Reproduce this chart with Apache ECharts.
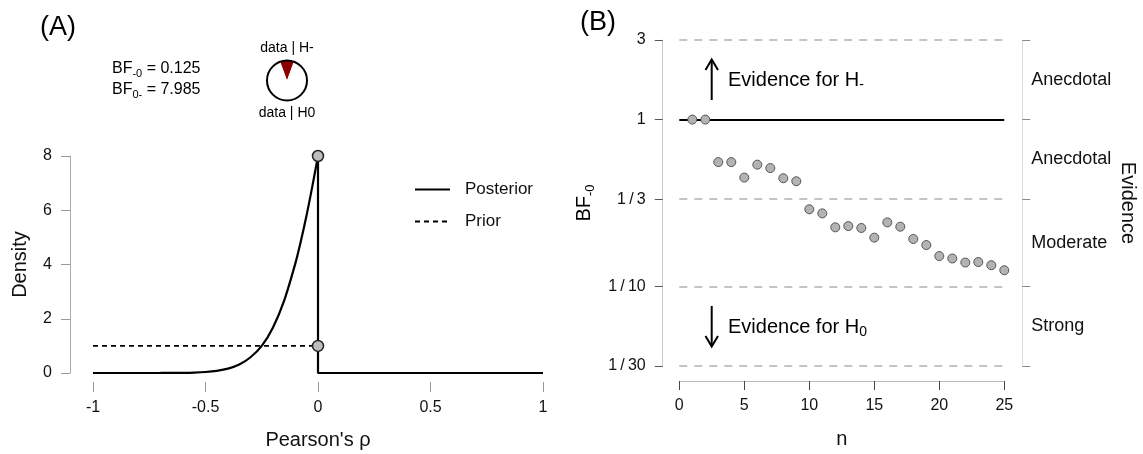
<!DOCTYPE html>
<html>
<head>
<meta charset="utf-8">
<script src="https://cdn.jsdelivr.net/npm/echarts@6/dist/echarts.min.js"></script>
<style>
  html, body { margin: 0; padding: 0; background: #fff; }
  #chart { width: 1143px; height: 454px; }
</style>
</head>
<body>
<div id="chart"></div>
<script>
// ---- panel A : prior / posterior of Pearson's rho ----
const rhoGrid = [-1, -0.9, -0.8, -0.7, -0.6, -0.55, -0.5, -0.45, -0.4, -0.35, -0.3, -0.25, -0.2, -0.15, -0.1, -0.075, -0.05, -0.025, 0];
const posteriorDensity = [0, 0, 0, 0.001, 0.007, 0.016, 0.037, 0.08, 0.16, 0.31, 0.58, 1.0, 1.68, 2.68, 4.06, 4.9, 5.84, 6.89, 8.0];
const posteriorTail = [[0, 8], [0, 0], [1, 0]];
const priorLine = [[-1, 1], [0, 1]];
const densityPoints = [[0, 8], [0, 1]];
const pieValues = [0.125, 1];          // data | H-  vs  data | H0
const pieLabels = ['data | H-', 'data | H0'];

// ---- panel B : sequential Bayes factor ----
const nValues = [1, 2, 3, 4, 5, 6, 7, 8, 9, 10, 11, 12, 13, 14, 15, 16, 17, 18, 19, 20, 21, 22, 23, 24, 25];
const bfValues = [1, 1, 0.556, 0.556, 0.449, 0.537, 0.512, 0.445, 0.427, 0.29, 0.274, 0.226, 0.23, 0.224, 0.196, 0.242, 0.228, 0.1925, 0.177, 0.152, 0.147, 0.139, 0.14, 0.134, 0.125];
const bfTicks = [3, 1, 1 / 3, 1 / 10, 1 / 30];
const bfTickLabels = ['3', '1', '1\u2009/\u20093', '1\u2009/\u200910', '1\u2009/\u200930'];
const dashedRefs = [3, 1 / 3, 1 / 10, 1 / 30];
const evidenceAt = [1.732, 0.577, 0.1826, 0.0577];
const evidenceLabels = ['Anecdotal', 'Anecdotal', 'Moderate', 'Strong'];

const FONT = '"Liberation Sans", Arial, sans-serif';
const lg = v => Math.log10(v);
const pick = (vals, labels) => v => {
  for (let i = 0; i < vals.length; i++) if (Math.abs(lg(vals[i]) - v) < 1e-6) return labels[i];
  return '';
};

const chart = echarts.init(document.getElementById('chart'));

const subRich = (size, sub) => ({
  m: { fontSize: size, fontFamily: FONT, color: '#000', lineHeight: size + 4, verticalAlign: 'middle' },
  s: { fontSize: sub, fontFamily: FONT, color: '#000', lineHeight: sub, verticalAlign: 'bottom' }
});

const option = {
  animation: false,
  textStyle: { fontFamily: FONT },
  legend: {
    data: ['Posterior', 'Prior'],
    orient: 'vertical',
    left: 409, top: 176,
    itemWidth: 35, itemHeight: 14, itemGap: 15,
    itemStyle: { opacity: 0 },
    textStyle: { fontSize: 17, color: '#111', fontFamily: FONT, padding: [0, 0, 0, 10] },
    selectedMode: false
  },
  grid: [
    { left: 93, right: 600, top: 156, bottom: 81 },
    { left: 679.3, right: 138.7, top: 40, bottom: 86.3 }
  ],
  xAxis: [
    {
      gridIndex: 0, type: 'value', min: -1, max: 1, interval: 0.5, offset: 9,
      axisLine: { show: false, onZero: false },
      axisTick: { length: 10, lineStyle: { color: '#999' } },
      axisLabel: { margin: 18, fontSize: 16, color: '#111' },
      splitLine: { show: false },
      name: "Pearson's \u03c1", nameLocation: 'middle', nameGap: 48,
      nameTextStyle: { fontSize: 20, color: '#111' }
    },
    {
      gridIndex: 1, type: 'value', min: 0, max: 25, interval: 5, offset: 15,
      axisLine: { onZero: false, lineStyle: { color: '#bbb' } },
      axisTick: { length: 9, lineStyle: { color: '#444' } },
      axisLabel: { margin: 17, fontSize: 16, color: '#111' },
      splitLine: { show: false },
      name: 'n', nameLocation: 'middle', nameGap: 48,
      nameTextStyle: { fontSize: 20, color: '#111' }
    }
  ],
  yAxis: [
    {
      gridIndex: 0, type: 'value', min: 0, max: 8, interval: 2, offset: 23,
      axisLine: { show: true, onZero: false, lineStyle: { color: '#aaa' } },
      axisTick: { show: true, length: 9, lineStyle: { color: '#999' } },
      axisLabel: { margin: 18, fontSize: 16, color: '#111' },
      splitLine: { show: false },
      name: 'Density', nameLocation: 'middle', nameGap: 40,
      nameTextStyle: { fontSize: 20, color: '#111' }
    },
    {
      gridIndex: 1, type: 'value', min: lg(1 / 30), max: lg(3), offset: 16.6,
      axisLine: { show: true, onZero: false, lineStyle: { color: '#ccc' } },
      axisTick: { show: true, length: 8, customValues: bfTicks.map(lg), lineStyle: { color: '#555' } },
      axisLabel: { margin: 17, fontSize: 16, color: '#111', customValues: bfTicks.map(lg), formatter: pick(bfTicks, bfTickLabels) },
      splitLine: { show: false },
      name: '{m|BF}{s|-0}', nameLocation: 'middle', nameGap: 66,
      nameTextStyle: { rich: subRich(20, 13) }
    },
    {
      gridIndex: 1, type: 'value', position: 'right', min: lg(1 / 30), max: lg(3), offset: 18,
      axisLine: { show: true, onZero: false, lineStyle: { color: '#ddd' } },
      axisTick: { show: true, length: 8, customValues: bfTicks.map(lg), lineStyle: { color: '#888' } },
      axisLabel: { margin: 9, fontSize: 18, color: '#111', customValues: evidenceAt.map(lg), formatter: pick(evidenceAt, evidenceLabels) },
      splitLine: { show: false },
      name: 'Evidence', nameLocation: 'middle', nameRotate: -90, nameGap: 95,
      nameTextStyle: { fontSize: 20, color: '#111' }
    }
  ],
  series: [
    {
      name: 'Posterior', type: 'line', xAxisIndex: 0, yAxisIndex: 0,
      data: rhoGrid.map((r, i) => [r, posteriorDensity[i]]),
      smooth: 0.25, symbol: 'none', z: 3,
      lineStyle: { color: '#000', width: 2.2 }, itemStyle: { color: '#000' }
    },
    {
      name: 'Posterior', type: 'line', xAxisIndex: 0, yAxisIndex: 0,
      data: posteriorTail, symbol: 'none', z: 3,
      lineStyle: { color: '#000', width: 2.2 }, itemStyle: { color: '#000' }
    },
    {
      name: 'Prior', type: 'line', xAxisIndex: 0, yAxisIndex: 0,
      data: priorLine, symbol: 'none', z: 3,
      lineStyle: { color: '#000', width: 1.6, type: [5, 4] }, itemStyle: { color: '#000' }
    },
    {
      name: 'points', type: 'scatter', xAxisIndex: 0, yAxisIndex: 0,
      data: densityPoints, symbolSize: 11, z: 5,
      itemStyle: { color: '#bdbdbd', borderColor: '#222', borderWidth: 1.5, opacity: 1 }
    },
    {
      type: 'pie', center: [287, 80.5], radius: [0, 20], silent: true,
      startAngle: 90 + 180 * pieValues[0] / (pieValues[0] + pieValues[1]),
      label: { show: false }, labelLine: { show: false },
      data: [
        { value: pieValues[0], itemStyle: { color: '#8b0000' } },
        { value: pieValues[1], itemStyle: { color: '#fff' } }
      ]
    },
    {
      name: 'BF', type: 'scatter', xAxisIndex: 1, yAxisIndex: 1,
      data: nValues.map((n, i) => [n, lg(bfValues[i])]),
      symbolSize: 9, z: 4,
      itemStyle: { color: '#b3b3b3', borderColor: '#555', borderWidth: 1, opacity: 1 },
      markLine: {
        z: 1, silent: true, symbol: 'none', animation: false, precision: 6,
        label: { show: false },
        data: dashedRefs.map(v => ({ yAxis: lg(v), lineStyle: { color: '#c4c4c4', width: 2, type: [8, 7] } }))
          .concat([{ yAxis: lg(1), lineStyle: { color: '#000', width: 2, type: 'solid' } }])
      }
    }
  ],
  graphic: [
    { type: 'text', x: 40, y: 28, style: { text: '(A)', fontSize: 27, fontFamily: FONT, fill: '#000', align: 'left', verticalAlign: 'middle' } },
    { type: 'text', x: 580, y: 23, style: { text: '(B)', fontSize: 27, fontFamily: FONT, fill: '#000', align: 'left', verticalAlign: 'middle' } },
    { type: 'text', x: 112, y: 69, style: { text: '{m|BF}{s|-0}{m| = 0.125}', rich: subRich(16, 11), align: 'left', verticalAlign: 'middle' } },
    { type: 'text', x: 112, y: 90, style: { text: '{m|BF}{s|0-}{m| = 7.985}', rich: subRich(16, 11), align: 'left', verticalAlign: 'middle' } },
    { type: 'text', x: 287, y: 48, style: { text: pieLabels[0], fontSize: 14, fontFamily: FONT, fill: '#000', align: 'center', verticalAlign: 'middle' } },
    { type: 'text', x: 287, y: 113.5, style: { text: pieLabels[1], fontSize: 14, fontFamily: FONT, fill: '#000', align: 'center', verticalAlign: 'middle' } },
    { type: 'circle', shape: { cx: 287, cy: 80.5, r: 20 }, style: { fill: 'none', stroke: '#000', lineWidth: 2 }, z: 100 },
    // arrows + evidence text in panel B
    { type: 'line', shape: { x1: 711.7, y1: 100, x2: 711.7, y2: 60 }, style: { stroke: '#000', lineWidth: 2 } },
    { type: 'polyline', shape: { points: [[705.5, 70], [711.7, 59.5], [718, 70]] }, style: { stroke: '#000', lineWidth: 2, fill: null } },
    { type: 'line', shape: { x1: 711.7, y1: 306, x2: 711.7, y2: 346 }, style: { stroke: '#000', lineWidth: 2 } },
    { type: 'polyline', shape: { points: [[705.5, 336], [711.7, 346.5], [718, 336]] }, style: { stroke: '#000', lineWidth: 2, fill: null } },
    { type: 'text', x: 728, y: 80, style: { text: '{m|Evidence for H}{s|-}', rich: subRich(20, 14), align: 'left', verticalAlign: 'middle' } },
    { type: 'text', x: 728, y: 327, style: { text: '{m|Evidence for H}{s|0}', rich: subRich(20, 14), align: 'left', verticalAlign: 'middle' } }
  ]
};

chart.setOption(option);
</script>
</body>
</html>
